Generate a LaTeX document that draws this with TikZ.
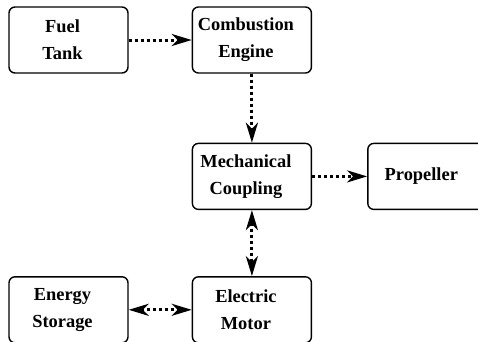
\documentclass[tikz,border=0pt]{standalone}
\usepackage{fontspec}
\setmainfont{Liberation Serif}
\usetikzlibrary{positioning,arrows.meta}

\tikzset{
  block/.style={draw, line width=1.4pt, rounded corners=6pt,
    minimum height=66pt, inner sep=0pt, text width=119pt,
    font=\bfseries\fontsize{18.4}{27}\selectfont,
    execute at begin node={\leftskip=0pt plus 1fil\rightskip=12pt plus 1fil\parfillskip=0pt}},
  tip/.style={Stealth[length=20pt,width=12pt,inset=6pt]},
  flow/.style={line width=3pt, dash pattern=on 3pt off 3pt, -{Stealth[length=20pt,width=12pt,inset=6pt]}},
  flowboth/.style={line width=3pt, dash pattern=on 3pt off 3pt,
    {Stealth[length=20pt,width=12pt,inset=6pt]}-{Stealth[length=20pt,width=12pt,inset=6pt]}}
}

\begin{document}
\begin{tikzpicture}[x=1pt,y=1pt]
      \useasboundingbox (0,0) rectangle (478,-341);

      \node[block] (tank) at (68.5,-40) {Fuel\\Tank};
      \node[block,right=63pt of tank] (engine) {Combustion\\Engine};
      \node[block,below=69pt of engine] (coupling) {Mechanical\\Coupling};
      \node[block,right=55pt of coupling] (propeller) {Propeller};
      \node[block,below=66pt of coupling] (motor) {Electric\\Motor};
      \node[block,left=63pt of motor] (storage) {Energy\\Storage};

      \draw[flow] (tank) -- (engine);
      \draw[flow] (engine) -- (coupling);
      \draw[flow] (coupling) -- (propeller);
      \draw[flowboth] (coupling) -- (motor);
      \draw[flowboth] (storage) -- (motor);
    \end{tikzpicture}
\end{document}
